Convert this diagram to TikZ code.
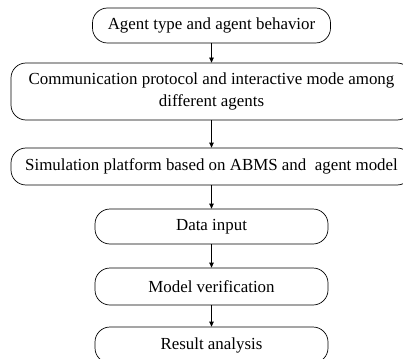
\documentclass[tikz,border=0pt]{standalone}
\usepackage{fontspec}
\setmainfont{Liberation Serif}
\usepackage{tikz}
\usetikzlibrary{
  arrows.meta,
  positioning
}
\tikzset{
  flowbox/.style={draw, line width=0.7pt, rounded corners=15pt, align=center,
    inner sep=2pt, font=\fontsize{16.9}{22}\selectfont},
  flowarrow/.style={-{Triangle[length=5pt,width=4.5pt]}, line width=0.7pt}
}

\begin{document}
\begin{tikzpicture}[x=1pt,y=1pt]
  \useasboundingbox (0,0) rectangle (403,-358);
  \clip (0,0) rectangle (403,-358);

  % Top stage
  \node[flowbox, minimum width=238pt, minimum height=35pt] (agent) at (211.5,-25.5)
    {Agent type and agent behavior};

  % Wide stages
  \node[flowbox, minimum width=401pt, minimum height=57pt] (comm) at (211.5,-91.5)
    {Communication protocol and interactive mode among\\different agents};
  \node[flowbox, minimum width=401pt, minimum height=37pt] (platform) at (211.5,-166.5)
    {Simulation platform based on ABMS and~~agent model};

  % Lower stages
  \node[flowbox, minimum width=233pt, minimum height=35pt] (input) at (211.5,-226.5)
    {Data input};
  \node[flowbox, minimum width=233pt, minimum height=37pt] (verif) at (211.5,-286.5)
    {Model verification};
  \node[flowbox, minimum width=233pt, minimum height=36pt] (result) at (211.5,-345)
    {Result analysis};

  % Arrows
  \draw[flowarrow] (agent) -- (comm);
  \draw[flowarrow] (comm) -- (platform);
  \draw[flowarrow] (platform) -- (input);
  \draw[flowarrow] (input) -- (verif);
  \draw[flowarrow] (verif) -- (result);
\end{tikzpicture}
\end{document}
